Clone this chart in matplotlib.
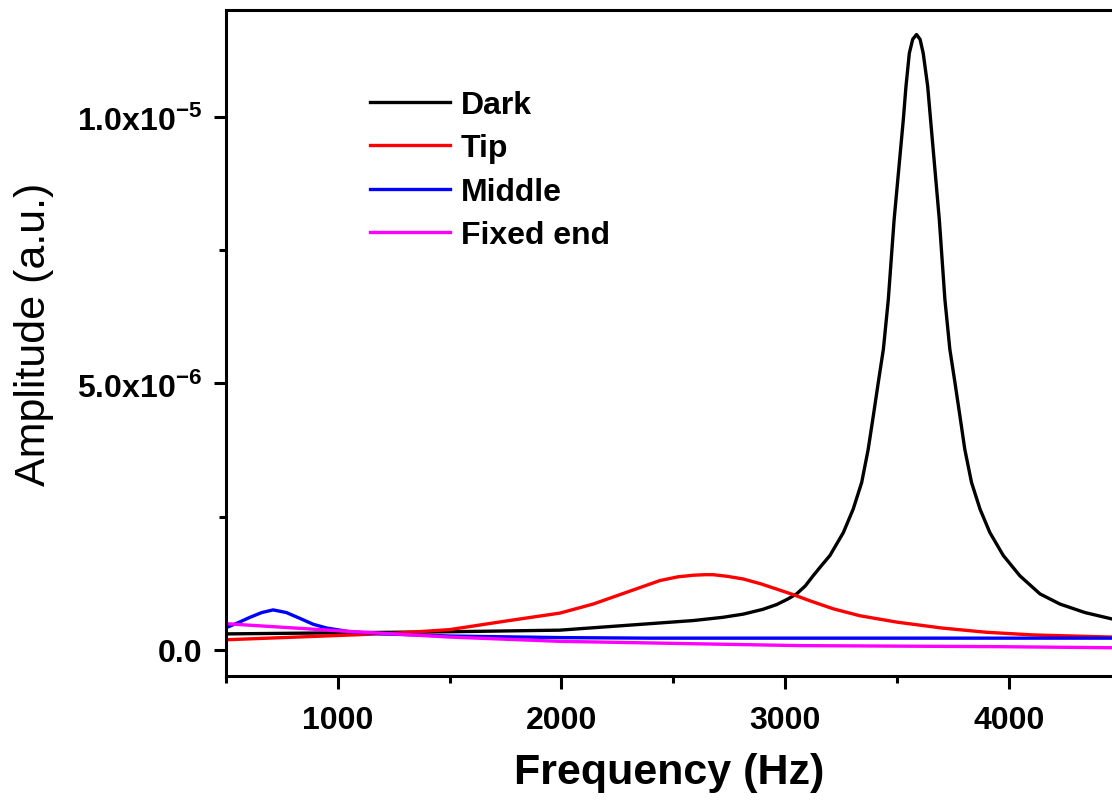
import matplotlib
matplotlib.use("Agg")
import matplotlib.pyplot as plt
from matplotlib.ticker import FixedLocator

plt.rcParams['font.family'] = ['Liberation Sans', 'DejaVu Sans']
plt.rcParams['mathtext.fontset'] = 'custom'
plt.rcParams['mathtext.bf'] = 'Liberation Sans:bold'
plt.rcParams['mathtext.rm'] = 'Liberation Sans:bold'

# ---- Data (frequency in Hz, amplitude in units of 1e-6) ----
dark_f = [503, 1000, 1500, 1993, 2291, 2589, 2720, 2812, 2900, 2962, 3010, 3051,
          3090, 3125, 3160, 3200, 3260, 3304, 3342, 3371, 3394, 3416, 3439, 3461,
          3487, 3528, 3540, 3555, 3570, 3587, 3603, 3617, 3637, 3650, 3689, 3714,
          3736, 3759, 3781, 3803, 3833, 3871, 3915, 3975, 4049, 4139, 4228, 4340,
          4461]
dark_a = [0.30, 0.32, 0.34, 0.37, 0.46, 0.55, 0.61, 0.67, 0.76, 0.85, 0.95, 1.05,
          1.20, 1.39, 1.57, 1.77, 2.20, 2.64, 3.14, 3.76, 4.39, 5.01, 5.64, 6.57,
          8.07, 9.94, 10.57, 11.19, 11.45, 11.54, 11.45, 11.19, 10.57, 9.94, 8.07,
          6.57, 5.64, 5.01, 4.39, 3.76, 3.14, 2.64, 2.20, 1.77, 1.39, 1.05, 0.86,
          0.70, 0.58]

tip_f = [503, 1000, 1250, 1500, 1750, 1993, 2142, 2291, 2440, 2520, 2589, 2640,
         2678, 2740, 2812, 2890, 2962, 3040, 3111, 3215, 3334, 3500, 3700, 3900,
         4109, 4461]
tip_a = [0.19, 0.27, 0.31, 0.38, 0.54, 0.69, 0.86, 1.08, 1.30, 1.37, 1.40, 1.41,
         1.41, 1.38, 1.33, 1.24, 1.14, 1.03, 0.92, 0.77, 0.64, 0.52, 0.41, 0.33,
         0.28, 0.24]

middle_f = [503, 560, 607, 660, 711, 770, 831, 890, 950, 1054, 1202, 1501, 2000,
            2395, 4461]
middle_a = [0.42, 0.52, 0.61, 0.70, 0.75, 0.70, 0.59, 0.48, 0.41, 0.34, 0.30, 0.26,
            0.23, 0.22, 0.22]

fixed_f = [503, 995, 1501, 1993, 2395, 3066, 3960, 4461]
fixed_a = [0.49, 0.36, 0.24, 0.16, 0.13, 0.08, 0.06, 0.04]

labels = ["Dark", "Tip", "Middle", "Fixed end"]
colors = ["black", "#ff0000", "#0000ff", "#ff00ff"]

y_ticks = [0.0, 5.0, 10.0]
y_tick_labels = ["0.0", r"5.0x10$^{\mathbf{-6}}$", r"1.0x10$^{\mathbf{-5}}$"]
x_ticks = [1000, 2000, 3000, 4000]

fig = plt.figure(figsize=(11.12, 8.03), dpi=100)
ax = fig.add_axes([0.2032, 0.1569, 0.7968, 0.8294])

series = [(dark_f, dark_a), (tip_f, tip_a), (middle_f, middle_a), (fixed_f, fixed_a)]
for (f, a), lab, c in zip(series, labels, colors):
    ax.plot(f, a, color=c, lw=2.4, label=lab, solid_joinstyle='round')

ax.set_xlim(500, 4461)
ax.set_ylim(-0.49, 12.0)

ax.set_xticks(x_ticks)
ax.set_xticklabels([str(t) for t in x_ticks])
ax.xaxis.set_minor_locator(FixedLocator([500, 1500, 2500, 3500]))
ax.set_yticks(y_ticks)
ax.set_yticklabels(y_tick_labels)
ax.yaxis.set_minor_locator(FixedLocator([2.5, 7.5]))

ax.tick_params(axis='both', which='major', direction='out', length=9, width=2.2,
               labelsize=23, pad=12)
ax.tick_params(axis='y', which='major', pad=8)
ax.tick_params(axis='both', which='minor', direction='out', length=5, width=2.2)
for lbl in ax.get_xticklabels() + ax.get_yticklabels():
    lbl.set_fontweight('bold')

for side in ['left', 'bottom', 'top']:
    ax.spines[side].set_linewidth(2.2)
ax.spines['right'].set_visible(False)

ax.set_xlabel("Frequency (Hz)", fontsize=31, fontweight='bold', labelpad=12)
ax.set_ylabel("Amplitude (a.u.)", fontsize=31)
ax.yaxis.set_label_coords(-0.194, 0.515)

leg = ax.legend(loc='upper left', bbox_to_anchor=(0.1625, 0.88), frameon=False,
                fontsize=23, handlelength=2.5, handletextpad=0.35, labelspacing=0.42,
                borderpad=0, borderaxespad=0)
for t in leg.get_texts():
    t.set_fontweight('bold')

fig.savefig("out.png", dpi=100)
